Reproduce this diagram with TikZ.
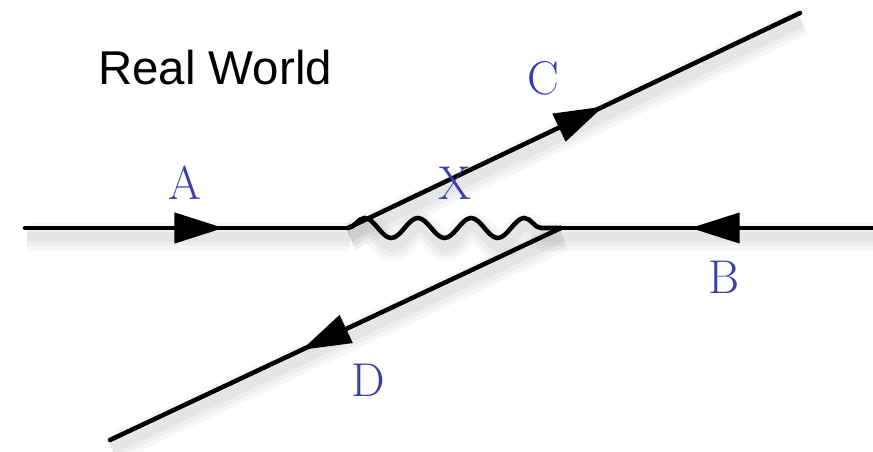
\documentclass[tikz,border=0pt]{standalone}
\usepackage{fontspec}
\newfontfamily\arialfont{Liberation Sans}
\usetikzlibrary{arrows.meta, decorations.markings, decorations.pathmorphing}
\definecolor{labelblue}{RGB}{60,60,170}

\begin{document}
\begin{tikzpicture}[x=0.02cm, y=-0.02cm,
    line/.style={line width=2.6pt, line cap=round},
    soft/.style={preaction={draw=black, line width=16pt, opacity=0.03, transform canvas={shift={(1pt,-5pt)}}},
                 preaction={draw=black, line width=11pt, opacity=0.035, transform canvas={shift={(1pt,-5pt)}}},
                 preaction={draw=black, line width=6pt, opacity=0.04, transform canvas={shift={(1pt,-5pt)}}}},
    midarrow/.style={postaction={decorate}, decoration={markings,
        mark=at position #1 with {\arrow{Triangle[length=28pt,width=17pt]}}}},
    lbl/.style={text=labelblue, font=\fontsize{27}{30}\selectfont}]
  \useasboundingbox (0,0) rectangle (873,452);
  \coordinate (a) at (25,228);
  \coordinate (v1) at (348,228);
  \coordinate (v2) at (561,228);
  \coordinate (b) at (873,228);
  \coordinate (c) at (800,13);
  \coordinate (d) at (110,440);
  % fermion lines
  \draw[line, soft, midarrow=0.615] (a) -- (v1);
  \draw[line, soft, midarrow=0.585] (b) -- (v2);
  \draw[line, soft, midarrow=0.565] (v1) -- (c);
  \draw[line, soft, midarrow=0.575] (v2) -- (d);
  % exchanged boson
  \draw[line, soft, decorate, decoration={snake, segment length=1.065cm, amplitude=0.2cm}] (v1) -- (v2);
  \node[lbl] (lA) at (185,183) {A};
  \node[lbl] (lB) at (724,277) {B};
  \node[lbl] (lC) at (543,78) {C};
  \node[lbl] (lD) at (368,380) {D};
  \node[lbl] (lX) at (455,183) {X};
  \node[font=\arialfont\fontsize{27}{30}\selectfont, anchor=west] (title) at (92,68) {Real World};
\end{tikzpicture}
\end{document}
